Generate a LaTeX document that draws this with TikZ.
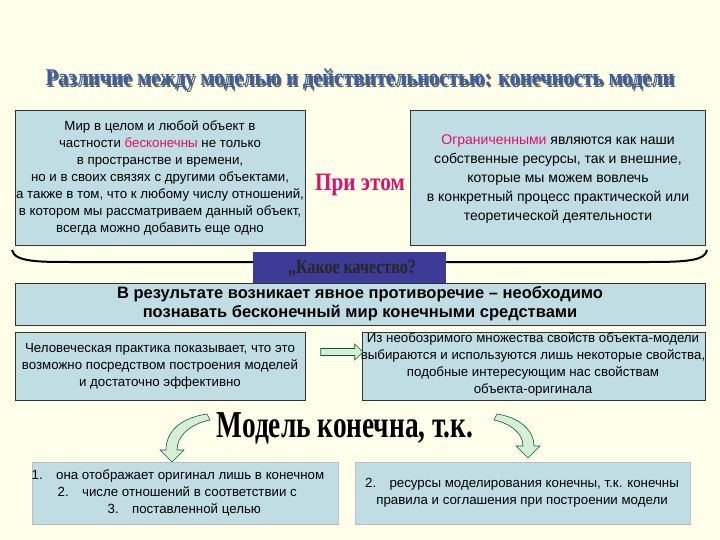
\documentclass[tikz,border=0pt]{standalone}
\usepackage{fontspec}
\setmainfont{Liberation Sans}
\newfontfamily\serifb{Liberation Serif}
\usetikzlibrary{shapes.arrows}
\definecolor{bg}{HTML}{FFFFEA}
\definecolor{boxb}{HTML}{BFDDE3}
\definecolor{pinkr}{HTML}{E0106A}
\definecolor{tblue}{HTML}{3A5FA0}
\definecolor{navy}{HTML}{3C3C96}
\definecolor{arrg}{HTML}{D6F0D0}
\tikzset{
 bx/.style={draw=black!80,fill=boxb,line width=0.8pt},
 lbx/.style={draw=black!25,fill=boxb,line width=0.6pt},
 txt/.style={align=center,inner sep=0pt,font=\fontsize{13.3}{17}\selectfont},
 garrow/.style={draw=teal!70!black,fill=arrg,line width=0.6pt}
}
\begin{document}
\begin{tikzpicture}[x=1pt,y=-1pt]
\fill[bg] (0,0) rectangle (720,540);
\useasboundingbox (0,0) rectangle (720,540);
% title
\node (tsh) at (361.5,81.5) {\serifb\bfseries\fontsize{24}{26}\selectfont\color{black!60}\scalebox{0.85}[1]{Различие между моделью и действительностью: конечность модели}};
\node (title) at (360,80) {\serifb\bfseries\fontsize{24}{26}\selectfont\color{tblue}\scalebox{0.85}[1]{Различие между моделью и действительностью: конечность модели}};
% top boxes
\draw[bx] (15,110) rectangle (305,245);
\node[txt] (lt) at (160,178) {Мир в целом и любой объект в\\частности {\color{pinkr}бесконечны} не только\\в пространстве и времени,\\но и в своих связях с другими объектами,\\а также в том, что к любому числу отношений,\\в котором мы рассматриваем данный объект,\\всегда можно добавить еще одно};
\draw[bx] (410,110) rectangle (705,245);
\node[txt,font=\fontsize{14}{19}\selectfont] (rt) at (558,179) {{\color{pinkr}Ограниченными} являются как наши\\собственные ресурсы, так и внешние,\\которые мы можем вовлечь\\в конкретный процесс практической или\\теоретической деятельности};
\node (pri) at (360,185) {\serifb\bfseries\fontsize{25}{26}\selectfont\color{pinkr}\scalebox{0.85}[1]{При этом}};
% brace
\draw[line width=2pt] (12,250) .. controls (14,262) and (40,262) .. (70,262) -- (650,262) .. controls (690,262) and (705,260) .. (707,250);
\draw[fill=navy,draw=navy] (253,252) rectangle (445,283);
\node (kak) at (352,268) {\serifb\bfseries\fontsize{20}{20}\selectfont\color{black!85}\scalebox{0.8}[1]{„Какое качество?}};
% result box
\draw[bx] (15,283) rectangle (705,325);
\node[txt,font=\bfseries\fontsize{16.5}{19}\selectfont] (res) at (360,304) {В результате возникает явное противоречие – необходимо\\познавать бесконечный мир конечными средствами};
% middle boxes
\draw[bx] (15,332) rectangle (305,400);
\node[txt] (ml) at (160,366) {Человеческая практика показывает, что это\\возможно посредством построения моделей\\и достаточно эффективно};
\draw[bx] (362,332) rectangle (705,400);
\node[txt] (mr) at (533,364) {Из необозримого множества свойств объекта-модели\\выбираются и используются лишь некоторые свойства,\\подобные интересующим нас свойствам\\объекта-оригинала};
\node[single arrow,garrow,minimum height=42pt,minimum width=16pt,single arrow head extend=3pt,inner sep=2pt] (ar) at (340,352) {};
% model text
\node (mod) at (345,428) {\serifb\bfseries\fontsize{38}{40}\selectfont\scalebox{0.72}[1]{Модель конечна, т.к.}};
% curved arrows
\draw[garrow] (207,414) .. controls (180,418) and (166,432) .. (166,450) -- (160,450) -- (172,462) -- (184,450) -- (177,450) .. controls (177,436) and (190,424) .. (210,420) -- cycle;
\draw[garrow] (497,414) .. controls (522,418) and (534,432) .. (534,446) -- (540,446) -- (528,458) -- (516,446) -- (523,446) .. controls (523,434) and (512,424) .. (494,420) -- cycle;
% bottom boxes
\draw[lbx] (32,462) rectangle (338,524);
\node[txt,align=left] (bl) at (178,493) {1.\quad она отображает оригинал лишь в конечном\\\hspace*{26pt}2.\quad числе отношений в соответствии с\\\hspace*{76pt}3.\quad поставленной целью};
\draw[lbx] (355,462) rectangle (690,524);
\node[txt] (br) at (522,493) {2.\quad ресурсы моделирования конечны, т.к. конечны\\правила и соглашения при построении модели};
\end{tikzpicture}
\end{document}
